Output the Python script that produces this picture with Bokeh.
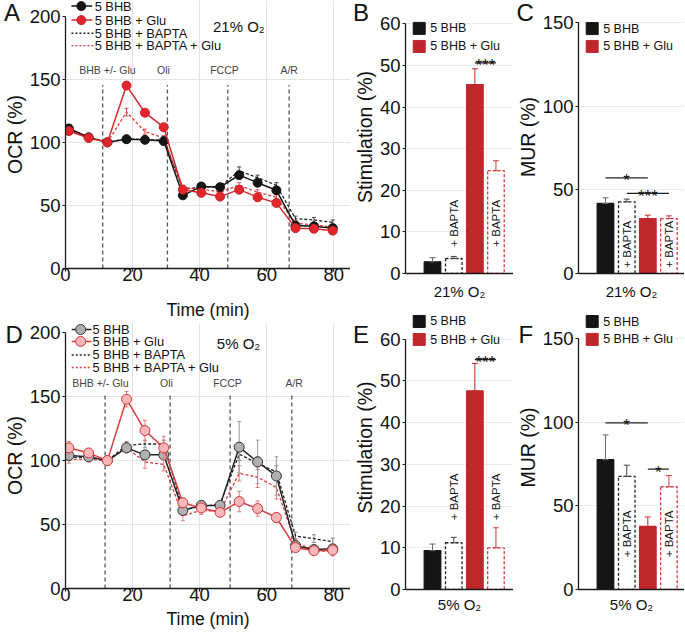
import math
from bokeh.plotting import figure
from bokeh.models import Range1d, FixedTicker, Title
from bokeh.layouts import row, column
from bokeh.embed import file_html
from bokeh.resources import INLINE
from bokeh.core.properties import value

FONT = "Liberation Sans"

# ---------------- data ----------------
time_min = [1.0, 6.9, 12.5, 18.2, 23.7, 29.3, 35.0, 40.5, 46.1, 51.8, 57.3, 62.9, 68.6, 74.1, 79.7]
series_labels = ["5 BHB", "5 BHB + Glu", "5 BHB + BAPTA", "5 BHB + BAPTA + Glu"]

ocr21_bhb = [111, 104, 100, 102.5, 102, 101, 58, 65, 64.5, 74, 68, 62, 34, 33.5, 32]
ocr21_bhb_err = [3, 1, 0, 2, 2, 2, 2, 2, 2, 3, 2, 2, 2, 2, 2]
ocr21_glu = [109, 103.5, 100, 145, 123.5, 112, 62.5, 60, 57, 62.5, 56.5, 52, 32, 31.5, 30]
ocr21_glu_err = [2, 1, 0, 2, 2, 2, 2, 2, 2, 2, 2, 2, 2, 2, 2]
ocr21_bapta = [111, 104, 100, 103, 102, 102, 63, 64.5, 65, 77.5, 72, 66, 39.5, 38.5, 36.5]
ocr21_bapta_err = [3, 1, 0, 2, 2, 2, 2, 2, 2, 3, 2, 2, 2, 2, 2]
ocr21_baptaglu = [110, 104, 100, 124, 108.5, 103.5, 64, 63, 60.5, 66, 60.5, 56.5, 36, 34.5, 33]
ocr21_baptaglu_err = [4, 1, 0, 3, 2, 2, 2, 2, 2, 2, 2, 2, 2, 2, 2]

ocr5_bhb = [104, 103, 100, 110, 104.5, 104.5, 61, 65, 65, 110.5, 99, 88, 33.5, 30.5, 31]
ocr5_bhb_err = [3, 2, 0, 3, 3, 3, 3, 2, 2, 20, 17, 15, 4, 3, 3]
ocr5_glu = [110, 106, 100, 148, 123.5, 110, 67, 63, 59.5, 68, 62.5, 55.5, 32, 29.5, 30]
ocr5_glu_err = [5, 3, 0, 6, 8, 9, 4, 3, 2, 8, 6, 4, 3, 2, 3]
ocr5_bapta = [103, 102, 100, 112, 113, 113, 62, 64, 66, 105, 98, 91, 41, 39, 36.5]
ocr5_bapta_err = [3, 2, 0, 3, 3, 3, 3, 2, 2, 5, 5, 5, 3, 3, 3]
ocr5_baptaglu = [101, 101, 100, 110, 99, 97, 57, 61, 60.5, 90, 87, 79, 36, 30, 28.5]
ocr5_baptaglu_err = [3, 2, 0, 4, 5, 5, 4, 3, 3, 6, 8, 9, 3, 3, 3]

injections = ["BHB +/- Glu", "Oli", "FCCP", "A/R"]
inj_time_21 = [11.1, 30.4, 48.4, 66.7]
inj_time_5 = [11.8, 31.2, 49.1, 67.5]

bar_groups = ["5 BHB", "5 BHB + BAPTA", "5 BHB + Glu", "5 BHB + BAPTA + Glu"]
bar_legend = ["5 BHB", "5 BHB + Glu"]
stim21 = [2.8, 3.6, 45.4, 24.7]
stim21_err = [1.0, 0.5, 3.8, 2.4]
mur21 = [41.9, 42.9, 32.9, 32.9]
mur21_err = [3.4, 1.6, 2.0, 1.6]
stim5 = [9.3, 11.2, 47.6, 10.0]
stim5_err = [1.6, 1.3, 6.6, 4.8]
mur5 = [77.7, 67.7, 37.7, 61.5]
mur5_err = [14.8, 6.7, 5.7, 6.7]

# ---------------- layout / style constants ----------------
BAR_POS = [1.28, 2.29, 3.29, 4.29]
BAR_W = 0.785
BAR_UNIT_PX = 21.67
BLACK = "#151515"
RED = "#c0272d"
TXT = "#111111"


def base_fig(w, h, xr, yr, left, bottom):
    p = figure(width=w, height=h, x_range=Range1d(*xr), y_range=Range1d(*yr),
               output_backend="svg", toolbar_location=None,
               min_border_left=left, min_border_right=0, min_border_top=0,
               min_border_bottom=bottom)
    p.outline_line_color = None
    p.background_fill_color = "white"
    p.border_fill_color = "white"
    for ax in (p.xaxis[0], p.yaxis[0]):
        ax.axis_line_color = "#1a1a1a"
        ax.axis_line_width = 1.3
        ax.major_tick_line_color = "#1a1a1a"
        ax.major_tick_line_width = 1.2
        ax.major_tick_out = 3
        ax.major_tick_in = 0
        ax.minor_tick_out = 0
        ax.minor_tick_in = 0
        ax.major_label_text_font = FONT
        ax.major_label_text_font_size = "18.5px"
        ax.major_label_text_color = TXT
        ax.major_label_standoff = 2
        ax.axis_label_text_font = FONT
        ax.axis_label_text_font_style = "normal"
        ax.axis_label_text_color = TXT
    p.yaxis[0].axis_label_text_font_size = "19.5px"
    p.yaxis[0].axis_label_standoff = 1
    for g in (p.xgrid[0], p.ygrid[0]):
        g.grid_line_color = "#e4e4e4"
        g.grid_line_width = 1
    return p


def add_letter(p, letter, offset, standoff):
    # zero-height title panel: the (negative) standoff pushes the letter down
    # into the top-left corner of the figure, left of the frame.
    p.add_layout(Title(text=letter, align="left", vertical_align="bottom",
                       offset=offset, standoff=standoff, text_font=FONT,
                       text_font_size="24px", text_font_style="normal",
                       text_color=TXT), "above")


def err_segments(p, xs, ys, es, color, cap):
    x0, y0, x1, y1 = [], [], [], []
    for x, y, e in zip(xs, ys, es):
        if e <= 0:
            continue
        x0 += [x, x - cap, x - cap]
        x1 += [x, x + cap, x + cap]
        y0 += [y - e, y - e, y + e]
        y1 += [y + e, y - e, y + e]
    p.segment(x0=x0, y0=y0, x1=x1, y1=y1, line_color=color, line_width=1)


def time_panel(h, frame_h, ymax, series, styles, inj_t, inj_x, inj_y, inj_top,
               o2_text, o2_xy, leg_rows, leg_x, xlab_standoff):
    p = base_fig(350, h, (0, 85), (0, ymax), 62, h - frame_h)
    p.yaxis[0].bounds = (0, 200)
    p.yaxis[0].ticker = FixedTicker(ticks=[0, 50, 100, 150, 200])
    p.xaxis[0].ticker = FixedTicker(ticks=[0, 20, 40, 60, 80])
    p.ygrid[0].ticker = FixedTicker(ticks=[50, 100, 150])
    p.xgrid[0].ticker = FixedTicker(ticks=[20, 40, 60, 80])
    p.yaxis[0].axis_label = "OCR (%)"
    p.xaxis[0].axis_label = "Time (min)"
    p.xaxis[0].axis_label_text_font_size = "17.5px"
    p.xaxis[0].major_label_standoff = -4
    p.xaxis[0].axis_label_standoff = xlab_standoff

    # injection lines and labels
    p.segment(x0=inj_t, y0=[0] * 4, x1=inj_t, y1=[inj_top] * 4,
              line_color="#555555", line_width=1.3, line_dash="4 3")
    p.text(x=inj_x, y=[inj_y] * 4, text=injections, text_font=value(FONT),
           text_font_size="10.5px", text_color="#444444",
           text_align="center", text_baseline="middle")
    p.text(x=[o2_xy[0]], y=[o2_xy[1]], text=[o2_text], text_font=value(FONT),
           text_font_size="15px", text_color=TXT, text_align="center",
           text_baseline="middle")

    # dashed series first
    for (vals, errs), st in list(zip(series, styles))[2:]:
        err_segments(p, time_min, vals, errs, st["err"], 0.6)
        p.line(time_min, vals, line_color=st["line"], line_width=1.3, line_dash="3 2")
    # solid series with markers
    for (vals, errs), st in list(zip(series, styles))[:2]:
        err_segments(p, time_min, vals, errs, st["err"], 0.6)
        p.line(time_min, vals, line_color=st["line"], line_width=1.5)
        p.scatter(time_min, vals, marker="circle", size=st["size"],
                  fill_color=st["fill"], line_color=st["mline"], line_width=1)

    # legend
    lx0, lmark, lx1, ltext = leg_x
    for i, (lab, st) in enumerate(zip(series_labels, styles)):
        yy = leg_rows[i]
        if i < 2:
            p.line([lx0, lx1], [yy, yy], line_color=st["line"], line_width=1.5)
            p.scatter([lmark], [yy], marker="circle", size=st["size"],
                      fill_color=st["fill"], line_color=st["mline"], line_width=1)
        else:
            p.line([lx0, ltext - 0.2], [yy, yy], line_color=st["line"],
                   line_width=1.3, line_dash="2 2")
        p.text(x=[ltext], y=[yy], text=[lab], text_font=value(FONT),
               text_font_size="12.8px", text_color=TXT, text_align="left",
               text_baseline="middle")
    return p


def bar_panel(w, left, h, frame_h, ymax, ybound, yticks, gticks, vals, errs,
              ylabel, xlabel, xlab_standoff, leg_ys, bapta_y, sigs):
    frame_w = w - left
    p = base_fig(w, h, (0, frame_w / BAR_UNIT_PX), (0, ymax), left, h - frame_h)
    p.yaxis[0].bounds = (0, ybound)
    p.yaxis[0].ticker = FixedTicker(ticks=yticks)
    p.ygrid[0].ticker = FixedTicker(ticks=gticks)
    p.ygrid[0].grid_line_color = "#ececec"
    p.xgrid[0].visible = False
    p.xaxis[0].ticker = FixedTicker(ticks=[])
    p.xaxis[0].major_tick_out = 0
    p.xaxis[0].major_label_standoff = 0
    p.xaxis[0].axis_label = xlabel
    p.xaxis[0].axis_label_text_font_size = "15px"
    p.xaxis[0].axis_label_standoff = xlab_standoff
    p.yaxis[0].axis_label = ylabel

    fills = [BLACK, "white", RED, "white"]
    lines = [BLACK, "#222222", RED, "#d8383a"]
    dashes = ["solid", "3 2", "solid", "3 2"]
    ecols = ["#666666", "#444444", RED, "#d8383a"]
    for i in range(4):
        p.vbar(x=[BAR_POS[i]], top=[vals[i]], width=BAR_W, bottom=0,
               fill_color=fills[i], line_color=lines[i], line_width=1.3,
               line_dash=dashes[i])
        err_segments(p, [BAR_POS[i]], [vals[i] + errs[i] / 2.0], [errs[i] / 2.0],
                     ecols[i], 0.14)
    p.text(x=[BAR_POS[1], BAR_POS[3]], y=[bapta_y] * 2, text=["+ BAPTA"] * 2,
           angle=math.pi / 2, text_font=value(FONT), text_font_size="11.5px",
           text_color=TXT, text_align="center", text_baseline="middle")

    # significance
    for (a, b, yy, stars, ty) in sigs:
        p.segment(x0=[BAR_POS[a]], y0=[yy], x1=[BAR_POS[b]], y1=[yy],
                  line_color="#222222", line_width=1.2)
        p.text(x=[(BAR_POS[a] + BAR_POS[b]) / 2], y=[ty], text=[stars],
               text_font=value(FONT), text_font_size="17px", text_color=TXT,
               text_align="center", text_baseline="alphabetic")

    # legend
    for yy, lab, col in zip(leg_ys, bar_legend, [BLACK, RED]):
        p.scatter([0.65], [yy], marker="square", size=12, fill_color=col,
                  line_color=col)
        p.text(x=[1.17], y=[yy], text=[lab], text_font=value(FONT),
               text_font_size="12.5px", text_color=TXT, text_align="left",
               text_baseline="middle")
    return p


styles21 = [
    dict(line=BLACK, fill=BLACK, mline=BLACK, err="#555555", size=9),
    dict(line="#d42a2f", fill="#e2262c", mline="#c92228", err="#d42a2f", size=9),
    dict(line="#222222", err="#444444"),
    dict(line="#e03c3c", err="#e05050"),
]
styles5 = [
    dict(line="#222222", fill="#b0b0b0", mline="#333333", err="#9a9a9a", size=10),
    dict(line="#d83c3c", fill="#f7b7b8", mline="#d63a3c", err="#e07a7a", size=10),
    dict(line="#222222", err="#8a8a8a"),
    dict(line="#e03c3c", err="#e07a7a"),
]

pA = time_panel(322, 273, 212.45,
                [(ocr21_bhb, ocr21_bhb_err), (ocr21_glu, ocr21_glu_err),
                 (ocr21_bapta, ocr21_bapta_err), (ocr21_baptaglu, ocr21_baptaglu_err)],
                styles21, inj_time_21, [12.5, 29.2, 47.4, 66.7], 157.5, 145.5,
                "21% O\u2082", (51.7, 191.7),
                [208.0, 196.9, 186.5, 176.6], (1.77, 4.72, 7.97, 8.7), 16)

pD = time_panel(315, 266, 208.0,
                [(ocr5_bhb, ocr5_bhb_err), (ocr5_glu, ocr5_glu_err),
                 (ocr5_bapta, ocr5_bapta_err), (ocr5_baptaglu, ocr5_baptaglu_err)],
                styles5, inj_time_5, [10.4, 30.1, 48.3, 68.2], 160.9, 151.0,
                "5% O\u2082", (51.6, 191.3),
                [202.5, 193.2, 182.6, 172.8], (1.86, 4.52, 7.76, 8.06), 5)

pB = bar_panel(163, 52, 305, 273, 65.6, 60, [0, 10, 20, 30, 40, 50, 60],
               [10, 20, 30, 40, 50, 60], stim21, stim21_err,
               "Stimulation (%)", "21% O\u2082", 9,
               [58.9, 54.56], 12.07, [(2, 3, 50.6, "***", 49.9)])
pC = bar_panel(171, 62, 305, 273, 163.4, 150, [0, 50, 100, 150],
               [50, 100, 150], mur21, mur21_err,
               "MUR (%)", "21% O\u2082", 9,
               [146.6, 135.9], 17.5,
               [(0, 2, 57.2, "*", 55.4), (1, 3, 47.9, "***", 46.1)])
pE = bar_panel(163, 52, 332, 284, 68.07, 60, [0, 10, 20, 30, 40, 50, 60],
               [10, 20, 30, 40, 50, 60], stim5, stim5_err,
               "Stimulation (%)", "5% O\u2082", 6,
               [64.24, 59.92], 22.2, [(2, 3, 55.1, "***", 54.4)])
pF = bar_panel(171, 62, 332, 284, 170.0, 150, [0, 50, 100, 150],
               [50, 100, 150], mur5, mur5_err,
               "MUR (%)", "5% O\u2082", 6,
               [160.4, 149.7], 33.3,
               [(0, 2, 99.7, "*", 97.9), (2, 3, 72.0, "*", 70.2)])

# panel letters
add_letter(pA, "A", -61.5, -50)
add_letter(pD, "D", -60, -50)
add_letter(pB, "B", -52.5, -50)
add_letter(pC, "C", -62, -50)
add_letter(pE, "E", -52.5, -84)
add_letter(pF, "F", -60, -84)

layout = row(column(pA, pD, spacing=0), column(pB, pE, spacing=0),
             column(pC, pF, spacing=0), spacing=0)

open("out.html", "w").write(file_html(layout, INLINE))
